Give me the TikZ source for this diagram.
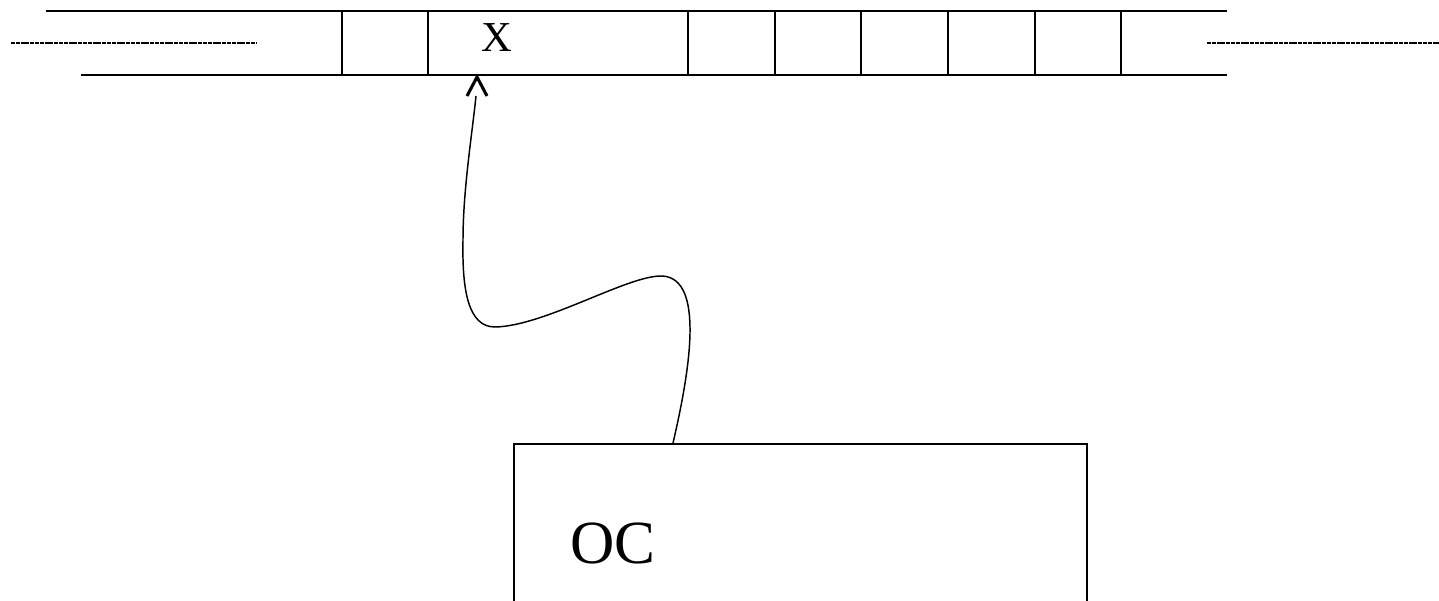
\documentclass[tikz,border=0pt]{standalone}
\usepackage{fontspec}
\setmainfont{Liberation Serif}
\begin{document}
\begin{tikzpicture}[x=0.75pt, y=-0.75pt]
    \clip (0,0) rectangle (1439,600);
    % 1. Băng (các ô)
    \draw[line width=1.5pt] (46,11) -- (1227,11);
    \draw[line width=1.5pt] (81,75) -- (1227,75);
    \foreach \xc in {342,428,688,775,861,948,1035,1121}
        \draw[line width=1.5pt] (\xc,11) -- (\xc,75);
    \draw[line width=1.5pt, dash pattern=on 3pt off 0.6pt] (11,43) -- (256,43);
    \draw[line width=1.5pt, dash pattern=on 3pt off 0.6pt] (1207,43) -- (1439,43);
    \node (sym) at (497,38) {\fontsize{32}{36}\selectfont X};
    \coordinate (head) at (477,77);
    \coordinate (shaft) at (476,96);
    
    % 2. Khối điều khiển
    \node[draw, line width=1.2pt, anchor=north west, minimum width=429.75pt,
          minimum height=200pt] (ctrl) at (513,443) {};
    \node (oc) at (613,543) {\fontsize{46}{50}\selectfont OC};
    \coordinate (src) at (673,443);
    
    % 3. Đường cong nối và mũi tên
    \draw[line width=1.1pt] (src) .. controls (690,370) and (705,278) .. (662,276)
        .. controls (628,275) and (545,326) .. (495,327)
        .. controls (468,327) and (462,290) .. (463,240)
        .. controls (463,190) and (472,135) .. (shaft);
    \draw[line width=2.3pt, miter limit=4] ([shift={(-10,19)}]head) -- (head) -- ([shift={(10,19)}]head);
\end{tikzpicture}
\end{document}
